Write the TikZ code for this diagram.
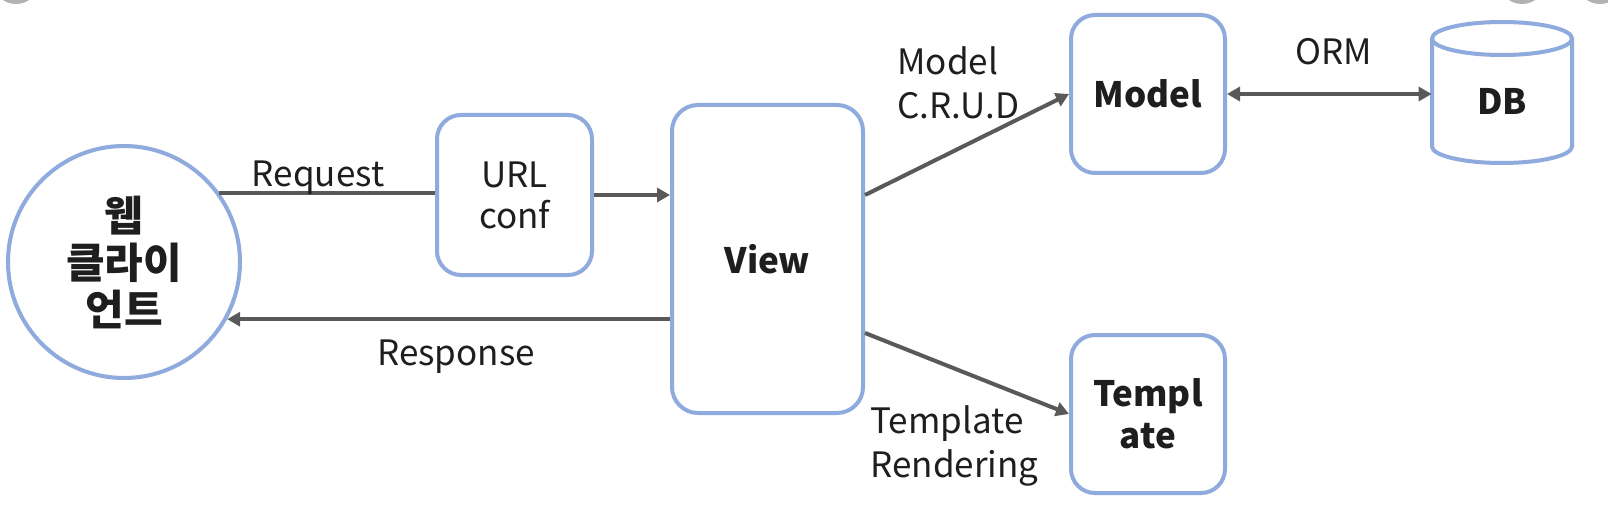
\documentclass[tikz,border=0pt]{standalone}
\usepackage{fontspec}
\setmainfont{Noto Sans CJK KR}
\usetikzlibrary{arrows.meta}
\definecolor{boxblue}{RGB}{143,170,220}
\definecolor{linegrey}{RGB}{89,89,89}
\definecolor{txt}{RGB}{30,30,30}
\begin{document}
\begin{tikzpicture}[x=0.5pt,y=-0.5pt,
  box/.style={draw=boxblue, line width=2pt, rounded corners=12pt, fill=white, align=center,
    font=\fontsize{17.5}{21}\selectfont\bfseries, inner sep=0pt, text=txt},
  lbl/.style={font=\fontsize{17.5}{22}\selectfont, inner sep=0pt, text=txt},
  conn/.style={draw=linegrey, line width=2pt},
  tip/.tip={Triangle[length=6.5pt,width=7pt]},
  arr/.style={conn, -tip},
]
\fill[white] (0,0) rectangle (1608,508);
\useasboundingbox (0,0) rectangle (1608,508);
% screenshot corner blobs
\fill[gray!60] (16,-20) circle (12pt);
\fill[gray!60] (1522,-20) circle (12pt);
\fill[gray!60] (1600,-20) circle (12pt);

% nodes
\node[circle, draw=boxblue, line width=2pt, minimum size=116pt, inner sep=0pt, align=center,
  font=\fontsize{21}{23.5}\selectfont\bfseries, text=txt] (client) at (124,262) {웹\\클라이\\언트};
\node[box, minimum width=77.5pt, minimum height=80pt, font=\fontsize{17.5}{20.5}\selectfont] (url) at (514.5,195) {URL\\conf};
\node[box, minimum width=95.5pt, minimum height=154pt, rounded corners=13pt] (view) at (767.5,259) {View};
\node[box, minimum width=77pt, minimum height=79pt] (model) at (1148,94) {Model};
\node[box, minimum width=77pt, minimum height=79pt, font=\fontsize{17.5}{21}\selectfont\bfseries] (template) at (1148,414) {Templ\\ate};

% DB cylinder
\draw[boxblue, line width=2pt, fill=white] (1432,38.5) -- (1432,146.5)
  arc[start angle=180, end angle=360, x radius=35pt, y radius=8.25pt] -- (1572,38.5);
\draw[boxblue, line width=2pt] (1502,38.5) ellipse[x radius=35pt, y radius=8.25pt];
\node[inner sep=0pt, minimum width=70pt, font=\fontsize{17.5}{21}\selectfont\bfseries, text=txt] (db) at (1502,101.5) {DB};

% connectors
\draw[conn] (client.36.5) -- (client.36.5 -| url.west);
\draw[arr] (url.east) -- (url.east -| view.west);
\draw[arr] (view.west |- client.-29) -- (client.-29);
\draw[arr] (view.east |- url.east) -- (model.west);
\draw[arr] (view.east |- template.north) -- (template.west);
\draw[conn, tip-tip] (model.east) -- (model.east -| db.west);

% labels
\node[lbl, anchor=base] (lreq) at (318,187) {Request};
\node[lbl, anchor=base] (lresp) at (456,365) {Response};
\node[lbl, anchor=base] (lorm) at (1334,65) {ORM};
\node[lbl, anchor=west, align=left] (lcrud) at (897,82.5) {Model\\C.R.U.D};
\node[lbl, anchor=west, align=left] (lrend) at (870,446) {Template\\Rendering};
\end{tikzpicture}
\end{document}
